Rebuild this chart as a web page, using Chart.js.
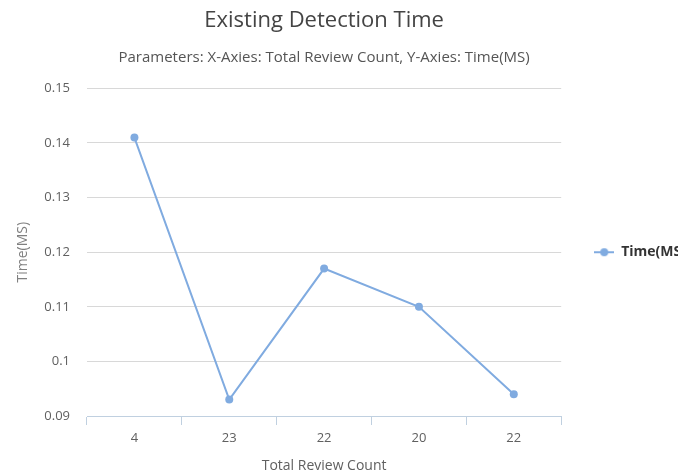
<!DOCTYPE html>
<html>
<head>
<meta charset="utf-8">
<script src="https://cdn.jsdelivr.net/npm/chart.js@4"></script>
<style>
  html, body { margin: 0; padding: 0; background: #fff; overflow: hidden; }
  #wrap { width: 678px; height: 474px; overflow: hidden; position: relative; }
  #box { width: 720px; height: 474px; }
</style>
</head>
<body>
<div id="wrap"><div id="box"><canvas id="chart"></canvas></div></div>
<script>
// --- DATA ---
const reviewCounts = ["4", "23", "22", "20", "22"];
const detectionTimes = [0.141, 0.093, 0.117, 0.110, 0.094];
const seriesName = "Time(MS)";
const yMin = 0.09;
const yMax = 0.15;
const yStep = 0.01;

const FONT = "'Open Sans', 'Noto Sans', sans-serif";
const LINE_COLOR = "#80abe0";

// legend marker: short line with a dot in the middle
function legendMarker() {
  const c = document.createElement("canvas");
  c.width = 20; c.height = 10;
  const ctx = c.getContext("2d");
  ctx.strokeStyle = LINE_COLOR;
  ctx.lineWidth = 2;
  ctx.beginPath(); ctx.moveTo(0, 5); ctx.lineTo(20, 5); ctx.stroke();
  ctx.fillStyle = LINE_COLOR;
  ctx.beginPath(); ctx.arc(10, 5, 4, 0, Math.PI * 2); ctx.fill();
  return c;
}

// --- CHART ---
const ctx = document.getElementById("chart").getContext("2d");
new Chart(ctx, {
  type: "line",
  data: {
    labels: reviewCounts,
    datasets: [{
      label: seriesName,
      data: detectionTimes,
      borderColor: LINE_COLOR,
      backgroundColor: LINE_COLOR,
      borderWidth: 2,
      pointRadius: 4,
      pointHoverRadius: 5,
      pointBackgroundColor: LINE_COLOR,
      pointBorderWidth: 0,
      tension: 0,
      fill: false
    }]
  },
  options: {
    responsive: true,
    maintainAspectRatio: false,
    animation: false,
    layout: { padding: { left: 10, right: 24, top: 0, bottom: 0 } },
    plugins: {
      title: {
        display: true,
        text: "Existing Detection Time",
        fullSize: false,
        color: "#444",
        font: { family: FONT, size: 22, weight: "normal" },
        padding: { top: 8, bottom: 0 }
      },
      subtitle: {
        display: true,
        text: "Parameters: X-Axies: Total Review Count, Y-Axies: Time(MS)",
        fullSize: false,
        color: "#555",
        font: { family: FONT, size: 15 },
        padding: { top: 14, bottom: 22 }
      },
      legend: {
        position: "right",
        fullSize: false,
        labels: {
          usePointStyle: true,
          pointStyle: legendMarker(),
          pointStyleWidth: 20,
          padding: 33,
          color: "#333",
          font: { family: FONT, size: 14, weight: "bold" }
        }
      },
      tooltip: { enabled: false }
    },
    scales: {
      x: {
        offset: true,
        grid: {
          offset: true,
          drawOnChartArea: false,
          drawTicks: true,
          tickLength: 9,
          color: "#C0D0E0"
        },
        border: { display: true, color: "#C0D0E0", width: 1 },
        ticks: { color: "#606060", padding: 5, font: { family: FONT, size: 13 } },
        title: {
          display: true,
          text: "Total Review Count",
          color: "#606060",
          font: { family: FONT, size: 14 },
          padding: { top: 4, bottom: 0 }
        },
        afterFit: s => { s.height = 58; }
      },
      y: {
        min: yMin,
        max: yMax,
        grid: { color: "#D8D8D8", drawTicks: false },
        border: { display: false },
        ticks: {
          stepSize: yStep,
          color: "#606060",
          padding: 17,
          font: { family: FONT, size: 13 },
          callback: v => String(parseFloat(Number(v).toFixed(2)))
        },
        title: {
          display: true,
          text: "Time(MS)",
          color: "#808080",
          font: { family: FONT, size: 14 },
          padding: { top: 5, bottom: 0 }
        },
        afterFit: s => { s.width = 77; }
      }
    }
  }
});
</script>
</body>
</html>
